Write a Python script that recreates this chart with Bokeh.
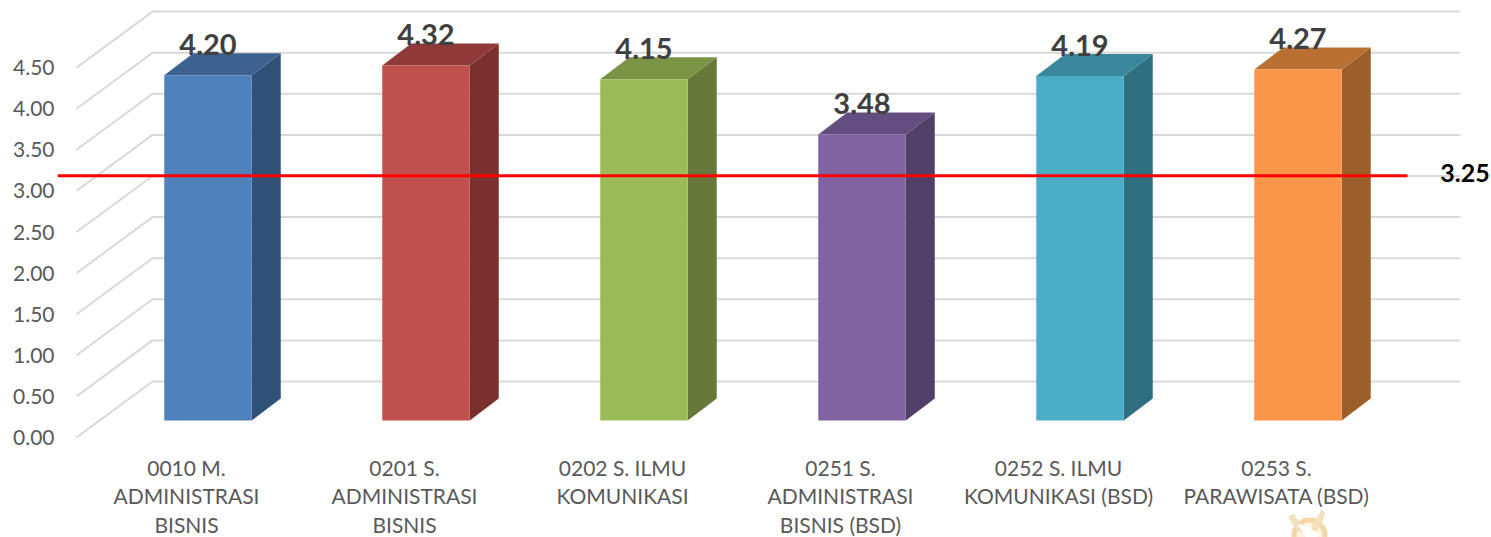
import math
from bokeh.plotting import figure
from bokeh.embed import file_html
from bokeh.resources import INLINE
from bokeh.core.properties import value
from bokeh.models import FixedTicker, Range1d

categories = ["0010 M.\nADMINISTRASI\nBISNIS", "0201 S.\nADMINISTRASI\nBISNIS", "0202 S. ILMU\nKOMUNIKASI",
              "0251 S.\nADMINISTRASI\nBISNIS (BSD)", "0252 S. ILMU\nKOMUNIKASI (BSD)", "0253 S.\nPARAWISATA (BSD)"]
values = [4.20, 4.32, 4.15, 3.48, 4.19, 4.27]
front_colors = ["#4F81BD", "#C0504D", "#9BBB59", "#8064A2", "#4BACC6", "#F9964A"]
top_colors = ["#3E628F", "#8F3A38", "#7A9344", "#644E7F", "#3A879B", "#BA7033"]
side_colors = ["#2F5178", "#7A302E", "#66793A", "#513F68", "#2F7080", "#9C5F2B"]
y_ticks = [0.0, 0.5, 1.0, 1.5, 2.0, 2.5, 3.0, 3.5, 4.0, 4.5]
threshold = 3.25

W, H = 1491, 537
FRAME_L, AXIS_Y = 57, 445
PX_X, PX_Y = 218.0, 82.2          # pixels per category, pixels per value unit
X0, Y0 = 186.0, 437.0             # pixel of category 0 label, pixel of value 0 at the front of the wall
dxu = lambda px: px / PX_X
dyu = lambda px: px / PX_Y
sx = lambda px: (px - X0) / PX_X
sy = lambda px: (Y0 - px) / PX_Y

p = figure(width=W, height=H, frame_width=W - FRAME_L, frame_height=H,
           output_backend="svg", toolbar_location=None,
           min_border_left=FRAME_L, min_border_right=0, min_border_top=0, min_border_bottom=0,
           x_range=Range1d(sx(FRAME_L), sx(W)), y_range=Range1d(sy(H), sy(0)),
           outline_line_color=None, background_fill_color="white", border_fill_color="white")
p.styles = {"position": "absolute", "left": "0", "top": "0"}
p.grid.visible = False

# small watermark emblem cut off by the lower edge
def disc(cx, cy, r):
    return ([sx(cx + r * math.cos(a / 18 * math.pi)) for a in range(36)],
            [sy(cy + r * math.sin(a / 18 * math.pi)) for a in range(36)])

def poly(xs, ys):
    return ([sx(v) for v in xs], [sy(v) for v in ys])

emblem = [
    (disc(1309, 535, 18), "#F5D6A5"),
    (disc(1309, 535, 13), "#FDF3E2"),
    (poly([1288, 1293, 1300, 1304, 1298, 1292], [516, 513, 523, 533, 531, 524]), "#F3E0BF"),
    (poly([1321, 1325, 1320, 1312, 1310], [509, 513, 526, 534, 528]), "#F3E0BF"),
    (poly([1297, 1308, 1320, 1314, 1306], [524, 526, 535, 537, 537]), "#FFFFFF"),
]
for (ex, ey), col in emblem:
    p.patch(ex, ey, fill_color=col, line_color=None)

# wall grid: diagonal from the front edge to the back, then across the back
wall_left = dxu(76 - X0)
wall_back = dxu(152 - X0)
wall_right = dxu(1460 - X0)
back_rise = dyu(56)
for t in y_ticks:
    p.line([wall_left, wall_back, wall_right], [t, t + back_rise, t + back_rise],
           line_color="#D9D9D9", line_width=2)

# bars
bar_off = dxu(21.5)
bar_w = dxu(87.5)
depth_x = dxu(29)
depth_y = dyu(22)
base_rise = dyu(17)
for i, v in enumerate(values):
    x0 = i + bar_off - bar_w / 2
    x1 = x0 + bar_w
    y0 = base_rise
    y1 = v + base_rise
    p.patch([x1, x1 + depth_x, x1 + depth_x, x1], [y0, y0 + depth_y, y1 + depth_y, y1], fill_color=side_colors[i], line_color=None)
    p.patch([x0, x0 + depth_x, x1 + depth_x, x1], [y1, y1 + depth_y, y1 + depth_y, y1], fill_color=top_colors[i], line_color=None)
    p.quad(left=[x0], right=[x1], bottom=[y0], top=[y1], fill_color=front_colors[i], line_color=None)

# data labels
p.text([i + bar_off for i in range(6)], [v + base_rise + depth_y + dyu(9) for v in values],
       text=[f"{v:.2f}" for v in values], text_font=value("Lato"), text_font_style="bold",
       text_font_size="29px", text_color="#404040", text_align="center", text_baseline="middle")

# reference line
line_y = threshold - dyu(5.5)
p.line([sx(FRAME_L), sx(1407)], [line_y, line_y], line_color="#FF0000", line_width=3)
p.text([sx(1464.5)], [line_y + dyu(3)], text=[f"{threshold:.2f}"], text_font=value("Lato"),
       text_font_style="bold", text_font_size="25px", text_color="black", text_align="center", text_baseline="middle")

# axes
p.yaxis.ticker = FixedTicker(ticks=y_ticks)
p.yaxis.major_label_overrides = {t: f"{t:.2f}" for t in y_ticks}
p.yaxis.major_label_text_font = "Lato"
p.yaxis.major_label_text_font_size = "21px"
p.yaxis.major_label_text_color = "#595959"
p.yaxis.major_label_standoff = 3
p.yaxis.major_tick_out = 0
p.yaxis.major_tick_in = 0
p.yaxis.axis_line_color = None
p.yaxis.major_tick_line_color = None
p.yaxis.minor_tick_line_color = None

p.xaxis.fixed_location = sy(AXIS_Y)
p.xaxis.ticker = FixedTicker(ticks=list(range(6)))
p.xaxis.major_label_overrides = {i: c for i, c in enumerate(categories)}
p.xaxis.major_label_text_font = "Lato"
p.xaxis.major_label_text_font_size = "21px"
p.xaxis.major_label_text_color = "#595959"
p.xaxis.major_tick_out = 0
p.xaxis.major_tick_in = 0
p.xaxis.major_label_standoff = 9
p.xaxis.major_label_text_line_height = 1.15
p.xaxis.axis_line_color = None
p.xaxis.major_tick_line_color = None
p.xaxis.minor_tick_line_color = None

open("out.html", "w").write(file_html(p, INLINE))
